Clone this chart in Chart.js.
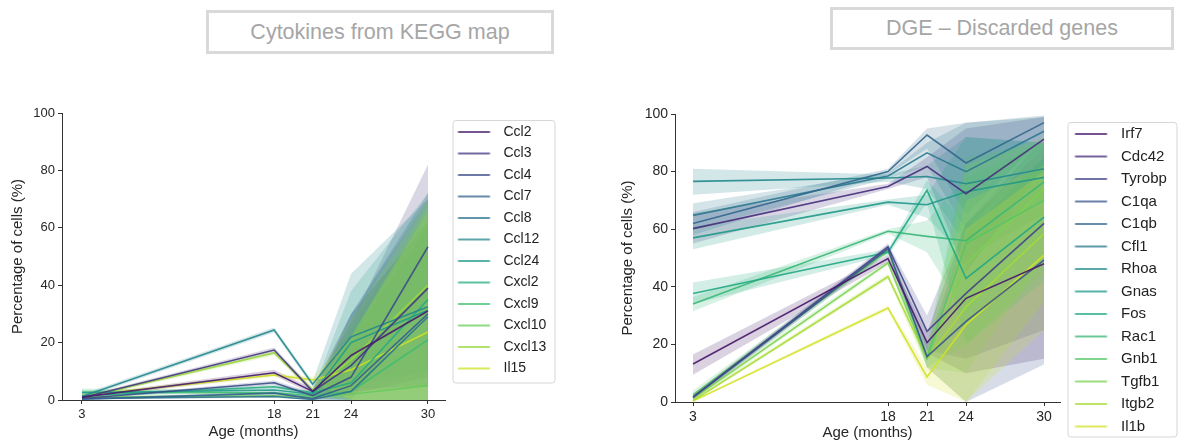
<!DOCTYPE html>
<html>
<head>
<meta charset="utf-8">
<script src="https://cdn.jsdelivr.net/npm/chart.js@4.4.0/dist/chart.umd.min.js"></script>
<style>
  body { margin: 0; width: 1181px; height: 445px; background: #fff; position: relative; overflow: hidden;
         font-family: "Liberation Sans", Arial, sans-serif; }
  .ttl { position: absolute; box-sizing: border-box; border: 3px solid #d9d9d9; color: #a6a6a6; font-size: 21.5px;
         display: flex; align-items: center; justify-content: center; }
  .panel { position: absolute; top: 0; height: 445px; }
</style>
</head>
<body>
<div class="ttl" style="left:206px;top:10px;width:348px;height:44px">Cytokines from KEGG map</div>
<div class="ttl" style="left:830px;top:7px;width:344px;height:43px">DGE – Discarded genes</div>
<div class="panel" style="left:0;width:590px"><canvas id="c1"></canvas></div>
<div class="panel" style="left:590px;width:591px"><canvas id="c2"></canvas></div>

<script>
// ages sampled (months)
const ages = [3, 18, 21, 24, 30];
const ageTicks = [3, 18, 21, 24, 30];

// left panel: cytokines
const cytoGenes = ['Ccl2', 'Ccl3', 'Ccl4', 'Ccl7', 'Ccl8', 'Ccl12', 'Ccl24', 'Cxcl2', 'Cxcl9', 'Cxcl10', 'Cxcl13', 'Il15'];
const cytoMean = [
  [1.0, 9.5, 3.0, 15.5, 31.0],
  [0.8, 17.4, 3.0, 12.0, 39.0],
  [0.5, 6.0, 1.5, 8.0, 53.4],
  [0.3, 2.4, 0.5, 5.0, 30.0],
  [0.5, 1.2, 0.2, 3.0, 29.0],
  [1.2, 24.4, 5.5, 22.0, 32.5],
  [2.5, 3.5, 2.0, 20.0, 31.3],
  [1.5, 4.6, 2.5, 6.0, 35.0],
  [2.8, 2.5, 1.5, 3.0, 21.0],
  [1.0, 1.5, 1.0, 2.0, 5.0],
  [0.8, 16.4, 3.5, 14.0, 40.0],
  [1.5, 8.7, 7.0, 10.5, 23.7]
];
const cytoLow = [
  [0.5, 8.5, 2.0, 3.0, 5.0],
  [0.3, 16.5, 2.0, 2.0, 8.0],
  [0.2, 5.2, 0.5, 0.0, 35.0],
  [0.0, 1.8, 0.0, 0.0, 0.0],
  [0.1, 0.8, 0.0, 0.0, 0.0],
  [0.5, 23.5, 4.5, 5.0, 10.0],
  [1.5, 2.8, 1.0, 4.0, 5.0],
  [0.8, 4.0, 1.8, 0.0, 0.0],
  [1.8, 2.0, 0.8, 0.0, 0.0],
  [0.5, 1.0, 0.5, 0.0, 0.0],
  [0.3, 15.5, 2.5, 0.0, 0.0],
  [0.8, 8.0, 6.0, 0.0, 0.0]
];
const cytoHigh = [
  [1.5, 10.5, 4.0, 30.0, 62.0],
  [1.3, 18.3, 4.0, 27.0, 82.0],
  [0.8, 6.8, 2.5, 30.0, 72.0],
  [0.6, 3.0, 1.0, 22.0, 60.0],
  [0.9, 1.6, 0.5, 30.0, 70.0],
  [2.0, 25.3, 6.5, 44.0, 70.0],
  [3.5, 4.2, 3.0, 38.0, 72.0],
  [2.2, 5.2, 3.2, 25.0, 66.0],
  [4.0, 3.0, 2.2, 22.0, 64.0],
  [1.5, 2.0, 1.5, 22.0, 68.0],
  [1.3, 17.3, 4.5, 28.0, 70.0],
  [2.2, 9.4, 8.0, 22.0, 66.0]
];

// right panel: discarded DGE genes
const dgeGenes = ['Irf7', 'Cdc42', 'Tyrobp', 'C1qa', 'C1qb', 'Cfl1', 'Rhoa', 'Gnas', 'Fos', 'Rac1', 'Gnb1', 'Tgfb1', 'Itgb2', 'Il1b'];
const dgeMean = [
  [13.2, 49.8, 20.6, 36.0, 48.0],
  [60.2, 74.8, 81.8, 72.3, 91.3],
  [1.8, 53.9, 24.5, 37.7, 62.0],
  [1.5, 53.2, 15.8, 28.0, 49.3],
  [62.0, 80.0, 92.7, 83.0, 97.0],
  [64.8, 78.5, 86.5, 80.0, 94.0],
  [76.6, 77.8, 78.3, 75.8, 81.0],
  [57.0, 69.4, 68.5, 73.0, 78.0],
  [37.7, 52.0, 73.5, 42.9, 64.2],
  [34.0, 59.3, 57.5, 56.0, 76.4],
  [2.5, 52.5, 15.5, 55.0, 70.0],
  [1.2, 48.3, 15.0, 48.0, 74.0],
  [0.5, 43.5, 15.0, 33.0, 58.5],
  [0.3, 32.6, 8.7, 26.8, 51.0]
];
const dgeLow = [
  [9.5, 48.5, 17.0, 10.0, 15.0],
  [55.0, 74.0, 78.0, 45.0, 82.0],
  [0.8, 52.8, 18.0, 15.0, 25.0],
  [0.5, 52.0, 12.0, 0.0, 13.0],
  [58.0, 79.0, 88.0, 65.0, 92.0],
  [60.0, 77.5, 82.0, 60.0, 88.0],
  [72.0, 76.5, 74.0, 55.0, 70.0],
  [53.0, 68.5, 64.0, 50.0, 65.0],
  [34.0, 51.0, 69.0, 20.0, 42.0],
  [31.5, 58.5, 52.0, 30.0, 60.0],
  [1.0, 51.5, 12.0, 20.0, 45.0],
  [0.3, 47.5, 12.0, 10.0, 50.0],
  [0.0, 42.5, 12.0, 0.0, 35.0],
  [0.0, 31.8, 6.0, 0.0, 25.0]
];
const dgeHigh = [
  [16.5, 51.0, 24.0, 62.0, 88.0],
  [65.5, 75.8, 85.0, 95.0, 99.0],
  [2.8, 55.0, 30.0, 62.0, 92.0],
  [2.5, 54.4, 20.0, 58.0, 85.0],
  [66.0, 81.0, 95.0, 97.0, 99.5],
  [69.0, 79.5, 90.0, 97.0, 99.0],
  [81.0, 79.0, 82.0, 92.0, 90.0],
  [61.0, 70.3, 72.0, 92.0, 90.0],
  [41.5, 53.0, 77.0, 62.0, 85.0],
  [36.5, 60.0, 63.0, 78.0, 90.0],
  [4.0, 53.5, 20.0, 85.0, 90.0],
  [2.5, 49.2, 18.0, 82.0, 92.0],
  [1.2, 44.5, 18.0, 70.0, 82.0],
  [0.8, 33.4, 12.0, 60.0, 80.0]
];

Chart.defaults.font.family = '"Liberation Sans", Arial, sans-serif';
Chart.defaults.color = '#262626';

const VIR = ['#440154', '#482475', '#414487', '#355f8d', '#2a788e', '#21918c', '#22a884', '#44bf70', '#7ad151', '#bddf26', '#fde725'];
function hex(h) { return [1, 3, 5].map(i => parseInt(h.substr(i, 2), 16)); }
function viridis(t) {
  const p = t * 10, i = Math.min(9, Math.floor(p)), f = p - i;
  const a = hex(VIR[i]), b = hex(VIR[i + 1]);
  return a.map((v, k) => Math.round(v + (b[k] - v) * f));
}
function rgba(c, a) { return 'rgba(' + c[0] + ',' + c[1] + ',' + c[2] + ',' + a + ')'; }

// little canvas used as legend marker (line with blank margins)
function legendLine(c, w, margin) {
  const cv = document.createElement('canvas');
  cv.width = w; cv.height = 4;
  const ctx = cv.getContext('2d');
  ctx.strokeStyle = rgba(c, 0.75);
  ctx.lineWidth = 2;
  ctx.beginPath();
  ctx.moveTo(margin, 2);
  ctx.lineTo(margin + 32, 2);
  ctx.stroke();
  return cv;
}

const legendFrame = {
  id: 'legendFrame',
  afterDraw(chart, args, opts) {
    const lg = chart.legend;
    const pad = lg.options.labels.padding;
    const fs = lg.options.labels.font.size;
    const n = lg.legendItems.length;
    const x0 = lg.left + pad;
    const firstC = lg.top + opts.titleH + pad + fs / 2;
    const lastC = firstC + (n - 1) * (fs + pad);
    const y0 = firstC - opts.above, y1 = lastC + opts.below;
    const ctx = chart.ctx;
    ctx.save();
    ctx.strokeStyle = '#d6d6d6';
    ctx.lineWidth = 1;
    ctx.beginPath();
    ctx.roundRect(x0 + 0.5, y0 + 0.5, opts.w, y1 - y0, 3);
    ctx.stroke();
    ctx.restore();
  }
};

function makeChart(id, genes, mean, low, high, cfg) {
  const n = genes.length;
  const bands = [], lines = [];
  genes.forEach((g, i) => {
    const c = viridis((i + 1) / (n + 1));
    // later genes painted over earlier ones, like the seaborn original
    const bandOrder = 2 + n - i;
    bands.push({
      label: g + ' lo', data: low[i], borderWidth: 0, pointRadius: 0, fill: false, order: bandOrder, tension: 0
    });
    bands.push({
      label: g + ' hi', data: high[i], borderWidth: 0, pointRadius: 0, fill: '-1',
      backgroundColor: rgba(c, 0.2), order: bandOrder, tension: 0
    });
    lines.push({
      label: g, data: mean[i], borderColor: rgba(c, 0.9), borderWidth: 1.6, pointRadius: 0,
      fill: false, order: 1, tension: 0, isMean: true, legendImg: legendLine(c, cfg.boxW, cfg.margin)
    });
  });
  const tickFont = { size: cfg.tickFont };
  const axisGrid = { drawOnChartArea: false, tickLength: 4, color: '#333', tickWidth: 1 };
  const chart = new Chart(document.getElementById(id), {
    type: 'line',
    data: { labels: ages, datasets: bands.concat(lines).map(d => Object.assign(d, { data: d.data.map((v, k) => ({ x: ages[k], y: v })) })) },
    options: {
      responsive: true,
      maintainAspectRatio: false,
      animation: false,
      layout: { padding: { left: cfg.padL, top: cfg.padT, right: 0, bottom: 0 } },
      plugins: {
        tooltip: { enabled: false },
        legend: {
          position: 'right',
          align: 'start',
          title: { display: true, text: '', font: { size: 1, lineHeight: 1 }, padding: { top: cfg.titleH - 1, bottom: 0 } },
          labels: {
            usePointStyle: true,
            pointStyleWidth: cfg.boxW,
            padding: cfg.lgPad,
            font: { size: cfg.lgFont },
            color: '#222',
            generateLabels(chart) {
              const items = Chart.defaults.plugins.legend.labels.generateLabels(chart)
                .filter(it => chart.data.datasets[it.datasetIndex].isMean)
                .sort((a, b) => a.datasetIndex - b.datasetIndex);
              items.forEach(it => { it.pointStyle = chart.data.datasets[it.datasetIndex].legendImg; });
              return items;
            }
          }
        },
        legendFrame: { titleH: cfg.titleH, above: 12, below: cfg.below, w: cfg.frameW }
      },
      scales: {
        x: {
          type: 'linear', min: cfg.xmin, max: cfg.xmax,
          afterBuildTicks: s => { s.ticks = ageTicks.map(v => ({ value: v })); },
          afterFit: s => { s.height = cfg.xh; },
          ticks: { font: tickFont, padding: 3, autoSkip: false, maxRotation: 0 },
          grid: axisGrid,
          border: { color: '#333', width: 1 },
          title: { display: true, text: 'Age (months)', font: { size: 15 }, padding: { top: 0, bottom: cfg.xtp } }
        },
        y: {
          min: 0, max: 100,
          afterFit: s => { s.width = cfg.yw; },
          ticks: { stepSize: 20, font: tickFont, padding: 3 },
          grid: axisGrid,
          border: { color: '#333', width: 1 },
          title: { display: true, text: 'Percentage of cells (%)', font: { size: 15 }, padding: { top: 9, bottom: 0 } }
        }
      }
    },
    plugins: [legendFrame]
  });
  // push the legend so the plot area ends where the reference axis ends
  chart.options.layout.padding.right = Math.max(0, chart.width - cfg.plotRight - chart.legend.width);
  chart.update();
  return chart;
}

makeChart('c1', cytoGenes, cytoMean, cytoLow, cytoHigh, {
  padL: 0, padT: 113, plotRight: 445, yw: 62, xh: 45, xtp: 4, tickFont: 13,
  xmin: 1.44, xmax: 31.33, boxW: 44, margin: 5.5, lgPad: 7.5, lgFont: 14, titleH: 4.5,
  below: 14, frameW: 102
});
makeChart('c2', dgeGenes, dgeMean, dgeLow, dgeHigh, {
  padL: 20, padT: 114, plotRight: 470, yw: 65, xh: 43, xtp: 3, tickFont: 14,
  xmin: 1.615, xmax: 31.23, boxW: 46, margin: 7.5, lgPad: 7.5, lgFont: 15, titleH: 5,
  below: 10, frameW: 109
});
</script>
</body>
</html>
